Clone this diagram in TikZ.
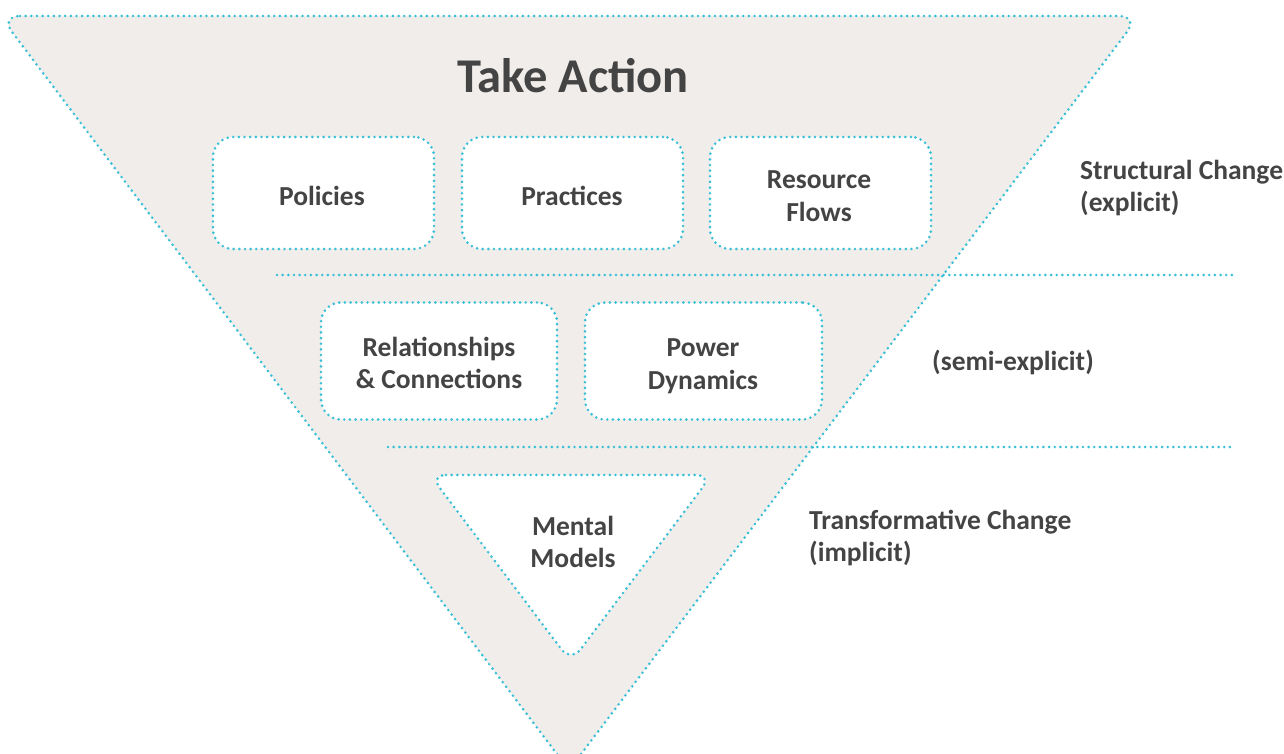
\documentclass[tikz,border=0pt]{standalone}
\usepackage{fontspec}
\setmainfont{Carlito}
\definecolor{dotc}{RGB}{58,192,214}
\definecolor{fillc}{RGB}{240,237,234}
\definecolor{txt}{RGB}{68,68,68}
\begin{document}
\begin{tikzpicture}[x=1pt,y=-1pt,
  dotline/.style={draw=dotc, line width=2.9pt, line cap=round, dash pattern=on 0pt off 5.65pt},
  box/.style={dotline, fill=white, rounded corners=20pt, minimum width=221pt, minimum height=112pt, inner sep=0pt},
  txtn/.style={font=\bfseries\fontsize{27.5}{32.5}\selectfont, text=txt, align=center, inner sep=0pt},
  lbl/.style={txtn, align=left, anchor=west}]
\useasboundingbox (0,0) rectangle (1284,754);
% big inverted triangle
\draw[dotline, fill=fillc, rounded corners=20pt] (0,16) -- (1139,16) -- (569,770) -- cycle;
% title
\node[font=\bfseries\fontsize{48.5}{58}\selectfont, text=txt, inner sep=0pt] (title) at (573,76) {Take Action};
% row 1
\node[box] (pol) at (323.5,193) {};
\node[box] (prac) at (572.5,193) {};
\node[box] (res) at (820.5,193) {};
\node[txtn] (polt) at (322,196) {Policies};
\node[txtn] (pract) at (572,196) {Practices};
\node[txtn] (rest) at (819,196) {Resource\\Flows};
% separators
\coordinate (s1a) at (277,275);
\coordinate (s1b) at (1235,275);
\coordinate (s2a) at (388,447);
\coordinate (s2b) at (1235,447);
\draw[dotline] (s1a) -- (s1b);
\draw[dotline] (s2a) -- (s2b);
% row 2
\node[box, minimum width=236pt, minimum height=117pt] (rel) at (439,361) {};
\node[box, minimum width=237pt, minimum height=117pt] (pow) at (703.5,361) {};
\node[txtn] (relt) at (439,363) {Relationships\\\& Connections};
\node[txtn] (powt) at (703,366) {Power\\Dynamics};
% mental models triangle
\draw[dotline, fill=white, rounded corners=16pt] (430,475) -- (712,475) -- (571,662) -- cycle;
\node[txtn] (mm) at (573,542) {Mental\\Models};
% side labels
\node[lbl] (l1) at (1080,188) {Structural Change\\(explicit)};
\node[lbl] (l2) at (932,362) {(semi-explicit)};
\node[lbl] (l3) at (809,538) {Transformative Change\\(implicit)};
\end{tikzpicture}
\end{document}
